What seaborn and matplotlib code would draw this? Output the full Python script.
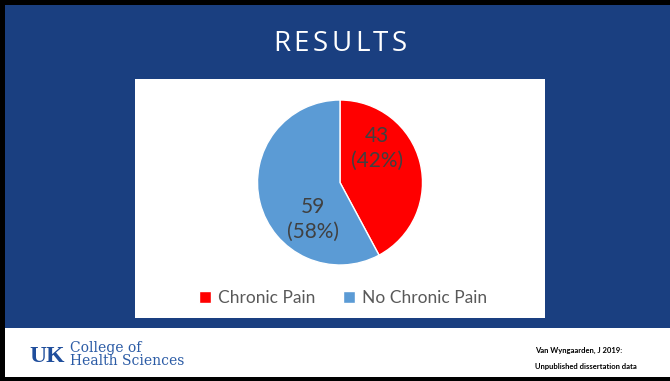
import matplotlib
matplotlib.use("Agg")
import matplotlib.pyplot as plt
from matplotlib.patches import Rectangle
import seaborn as sns

# Survey counts
categories = ["Chronic Pain", "No Chronic Pain"]
counts = [43, 59]
slice_colors = ["#FF0000", "#5B9BD5"]

title_text = "RESULTS"
source_lines = ["Van Wyngaarden, J 2019:", "Unpublished dissertation data"]
college_lines = ["College of", "Health Sciences"]

sns.set_theme(style="white")
plt.rcParams["font.family"] = ["Lato", "DejaVu Sans"]

W, H = 670, 381
fig = plt.figure(figsize=(W / 100, H / 100), dpi=100)
fig.patch.set_facecolor("black")


def px_rect(x0, y0, x1, y1, color):
    fig.patches.append(Rectangle((x0 / W, 1 - y1 / H), (x1 - x0) / W, (y1 - y0) / H,
                                 transform=fig.transFigure, facecolor=color,
                                 edgecolor="none", zorder=-5))


def px_text(x, y, s, **kw):
    return fig.text(x / W, 1 - y / H, s, **kw)


# Slide panels
px_rect(5, 5, W, 328, "#1A3F80")
px_rect(5, 328, W, 377, "white")
px_rect(135, 79, 545, 318, "white")

# Letter-spaced title
renderer = fig.canvas.get_renderer()
title_kw = dict(color="white", fontsize=20, fontweight="normal", ha="left", va="center",
                family=["Open Sans", "DejaVu Sans"])
tracking = 3.5
widths = []
for ch in title_text:
    t = px_text(0, 0, ch, **title_kw)
    widths.append(t.get_window_extent(renderer).width)
    t.remove()
total_w = sum(widths) + tracking * (len(title_text) - 1)
x = 340 - total_w / 2
for ch, w in zip(title_text, widths):
    px_text(x, 44, ch, **title_kw)
    x += w + tracking

# Pie chart
cx, cy, r = 340, 182.5, 82.5
ax = fig.add_axes([(cx - r) / W, 1 - (cy + r) / H, 2 * r / W, 2 * r / H])
ax.set_zorder(3)
total = sum(counts)
wedges, _ = ax.pie(counts, colors=slice_colors, startangle=90, counterclock=False,
                   radius=1, wedgeprops=dict(edgecolor="white", linewidth=1))
ax.set_xlim(-1, 1)
ax.set_ylim(-1, 1)
ax.set_aspect("equal")
ax.axis("off")

label_pos = [(0.45, 0.41), (-0.33, -0.45)]
for (lx, ly), n in zip(label_pos, counts):
    ax.text(lx, ly, f"{n}\n({n / total:.0%})", ha="center", va="center",
            fontsize=15, color="#404040", linespacing=1.3)

leg = fig.legend(wedges, categories, loc="center", bbox_to_anchor=(343 / W, 1 - 298 / H),
                 ncol=2, frameon=False, fontsize=12.5, handlelength=0.7, handleheight=0.7,
                 handletextpad=0.4, columnspacing=1.6, labelcolor="#595959")
leg.set_zorder(4)

# Footer
px_text(47, 356, "UK", color="#1F4E9C", fontsize=17, fontweight="bold",
        family=["Liberation Serif"], ha="center", va="center")
px_text(70, 348, college_lines[0], color="#2B5BA5", fontsize=10,
        family=["DejaVu Serif"], ha="left", va="center")
px_text(70, 361, college_lines[1], color="#2B5BA5", fontsize=10,
        family=["DejaVu Serif"], ha="left", va="center")
px_text(535, 350, source_lines[0], color="black", fontsize=5.5, fontweight="bold",
        ha="left", va="center")
px_text(535, 366, source_lines[1], color="black", fontsize=5.5, fontweight="bold",
        ha="left", va="center")

fig.savefig("out.png", dpi=100, facecolor=fig.get_facecolor())
